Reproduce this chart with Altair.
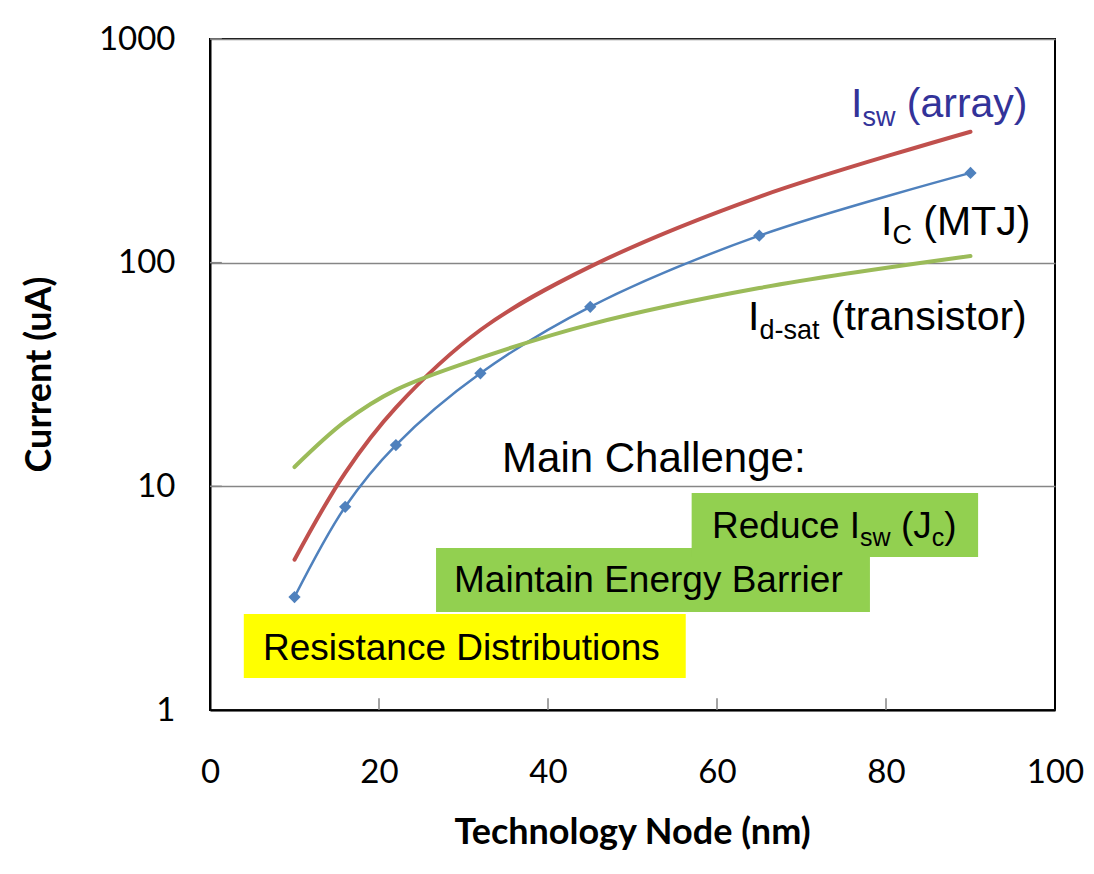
import altair as alt
import pandas as pd

# ---- data ----
nodes = [10, 16, 22, 32, 45, 65, 90]
ic_mtj = [3.2, 8.1, 15.3, 32, 63.5, 132, 252]
isw_array = [4.7, 11.5, 22.5, 50, 96, 197, 385]
id_sat = [12.2, 19.5, 27, 37.5, 53, 77, 107]

series_names = ["Isw (array)", "Ic (MTJ)", "Id-sat (transistor)"]
series_colors = ["#C0504D", "#4F81BD", "#9BBB59"]
series_widths = [4, 2.5, 4]

x_ticks = [0, 20, 40, 60, 80, 100]
y_ticks = [1, 10, 100, 1000]

# annotation boxes (data coordinates)
box_x = [4.0, 26.75, 57.0]
box_x2 = [56.3, 78.1, 90.9]
box_y = [1.39, 2.74, 4.83]
box_y2 = [2.69, 5.30, 9.34]
box_fill = ["#FFFF00", "#92D050", "#92D050"]

# annotation labels: anchor (data coords) + pieces (text, font size, subscript?)
labels = [
    {"x": 75.86, "y": 448, "color": "#333399",
     "pieces": [("I", 41, False), ("sw", 27, True), (" (array)", 41, False)]},
    {"x": 79.41, "y": 133, "color": "#000000",
     "pieces": [("I", 41, False), ("C", 27, True), (" (MTJ)", 41, False)]},
    {"x": 63.67, "y": 50, "color": "#000000",
     "pieces": [("I", 41, False), ("d-sat", 27, True), (" (transistor)", 41, False)]},
    {"x": 34.56, "y": 11.6, "color": "#000000",
     "pieces": [("Main Challenge:", 42, False)]},
    {"x": 6.27, "y": 1.673, "color": "#000000",
     "pieces": [("Resistance Distributions", 37, False)]},
    {"x": 28.88, "y": 3.37, "color": "#000000",
     "pieces": [("Maintain Energy Barrier", 37, False)]},
    {"x": 59.41, "y": 5.875, "color": "#000000",
     "pieces": [("Reduce I", 37, False), ("sw", 25, True), (" (J", 37, False),
                ("c", 25, True), (")", 37, False)]},
]

# Arial / Liberation Sans advance widths (per 1000 em)
ARIAL = {" ": 278, "(": 333, ")": 333, "-": 333, ":": 278, "B": 667, "C": 722,
         "D": 722, "E": 667, "I": 278, "J": 500, "M": 833, "R": 722, "T": 611,
         "a": 556, "b": 556, "c": 500, "d": 556, "e": 556, "g": 556, "h": 556,
         "i": 222, "l": 222, "n": 556, "o": 556, "r": 333, "s": 500, "t": 278,
         "u": 556, "w": 722, "y": 500}


def text_width(s, size):
    return sum(ARIAL.get(ch, 556) for ch in s) * size / 1000.0


# ---- tables ----
rows = []
for name, vals in zip(series_names, [isw_array, ic_mtj, id_sat]):
    for n, v in zip(nodes, vals):
        rows.append({"node": n, "current": v, "series": name})
lines_df = pd.DataFrame(rows)
ic_df = pd.DataFrame({"node": nodes, "current": ic_mtj})
box_df = pd.DataFrame({"x": box_x, "x2": box_x2, "y": box_y, "y2": box_y2, "fill": box_fill})
xtick_df = pd.DataFrame({"x": [20, 40, 60, 80], "y": [1] * 4, "y2": [1.13] * 4})
ytick_df = pd.DataFrame({"y": [10, 100, 1000], "x": [0] * 3, "x2": [1.4] * 3})

xscale = alt.Scale(domain=[0, 100], nice=False, zero=False)
yscale = alt.Scale(type="log", domain=[1, 1000], nice=False)

axis_font = "Lato"

xaxis = alt.Axis(values=x_ticks, ticks=False, tickSize=0, grid=False, labelFlush=False,
                 labelFont=axis_font, labelFontSize=33, labelColor="#000000",
                 labelPadding=62, labelBaseline="middle",
                 domainColor="#000000", domainWidth=2,
                 title="Technology Node (nm)", titleFont=axis_font, titleFontSize=36,
                 titleFontWeight="bold", titleColor="#000000",
                 titleX=422, titleY=122, titleBaseline="middle", titleAlign="center")
yaxis = alt.Axis(values=y_ticks, ticks=False, tickSize=0, grid=True, labelFlush=False,
                 gridColor="#868686", gridWidth=1.5,
                 labelFont=axis_font, labelFontSize=33, labelColor="#000000",
                 labelPadding=35, labelBaseline="middle", format="d",
                 domainColor="#000000", domainWidth=2,
                 title="Current  (uA)", titleFont=axis_font, titleFontSize=36,
                 titleFontWeight="bold", titleColor="#000000",
                 titleX=-171, titleY=335, titleAngle=-90,
                 titleBaseline="middle", titleAlign="center")

base_axes = alt.Chart(lines_df).mark_line(opacity=0).encode(
    x=alt.X("node:Q", scale=xscale, axis=xaxis),
    y=alt.Y("current:Q", scale=yscale, axis=yaxis),
)

boxes = alt.Chart(box_df).mark_rect().encode(
    x=alt.X("x:Q", scale=xscale),
    x2="x2:Q",
    y=alt.Y("y:Q", scale=yscale),
    y2="y2:Q",
    fill=alt.Fill("fill:N", scale=None),
)

xticks = alt.Chart(xtick_df).mark_rule(color="#868686", strokeWidth=1.5).encode(
    x=alt.X("x:Q", scale=xscale), y=alt.Y("y:Q", scale=yscale), y2="y2:Q")
yticks = alt.Chart(ytick_df).mark_rule(color="#868686", strokeWidth=1.5).encode(
    y=alt.Y("y:Q", scale=yscale), x=alt.X("x:Q", scale=xscale), x2="x2:Q")

layers = [base_axes, boxes, xticks, yticks]
for name, col, w in zip(series_names, series_colors, series_widths):
    layers.append(
        alt.Chart(lines_df).transform_filter(alt.datum.series == name)
        .mark_line(interpolate="catmull-rom", color=col, strokeWidth=w, strokeCap="round")
        .encode(x=alt.X("node:Q", scale=xscale), y=alt.Y("current:Q", scale=yscale))
    )

points = alt.Chart(ic_df).mark_point(shape="diamond", filled=True, size=150,
                                      color="#4F81BD", opacity=1).encode(
    x=alt.X("node:Q", scale=xscale), y=alt.Y("current:Q", scale=yscale))
layers.append(points)

for lab in labels:
    offset = 0.0
    for txt, size, sub in lab["pieces"]:
        stripped = txt.lstrip(" ")
        offset += text_width(txt[: len(txt) - len(stripped)], size)
        piece_df = pd.DataFrame({"x": [lab["x"]], "y": [lab["y"]], "t": [stripped]})
        layers.append(
            alt.Chart(piece_df).mark_text(
                align="left", baseline="alphabetic", font="Liberation Sans",
                fontSize=size, color=lab["color"], dx=offset,
                dy=((9 if size > 26 else 8) if sub else 0),
            ).encode(
                x=alt.X("x:Q", scale=xscale),
                y=alt.Y("y:Q", scale=yscale),
                text="t:N",
            )
        )
        offset += text_width(stripped, size)

chart = alt.layer(*layers).properties(
    width=845, height=671,
    autosize=alt.AutoSizeParams(type="none"),
    padding={"left": 202, "top": 31, "right": 31, "bottom": 150},
    background="#FFFFFF",
).configure_view(stroke="#000000", strokeWidth=2)

chart.save("out.html", embed_options={"renderer": "svg", "actions": False})
